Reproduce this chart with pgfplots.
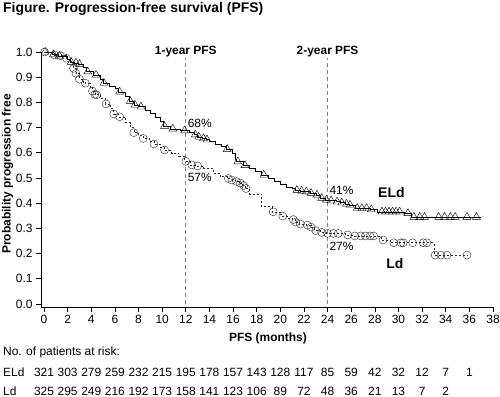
\documentclass[border=0pt]{standalone}
\usepackage{fontspec}
\setmainfont{Liberation Sans}
\usepackage{pgfplots}
\pgfplotsset{compat=1.18}
\newcommand{\fs}{\fontsize{12}{14}\selectfont}
\newcommand{\fb}{\bfseries\fontsize{12}{14}\selectfont}
\begin{document}
\begin{tikzpicture}
\path[use as bounding box] (0,0) rectangle (500bp,397bp);
\begin{axis}[
  at={(41bp,90bp)}, anchor=south west,
  scale only axis, width=452bp, height=255bp,
  xmin=-0.254, xmax=38, ymin=-0.012, ymax=1,
  axis x line*=bottom, axis y line*=left,
  axis line style={black, line width=0.6pt},
  xtick={0,2,...,38}, ytick={0,0.1,...,1.0},
  tick align=outside, major tick length=5bp,
  tick style={black, line width=0.6pt},
  /pgf/number format/assume math mode=true,
  yticklabel style={/pgf/number format/.cd, fixed, fixed zerofill, precision=1},
  tick label style={font=\fs},
  clip=false,
]
% vertical reference lines
\addplot[gray, line width=0.6pt, dash pattern=on 4pt off 3pt] coordinates {(12,0) (12,0.975)};
\addplot[gray, line width=0.6pt, dash pattern=on 4pt off 3pt] coordinates {(24,0) (24,0.975)};
% ELd step curve
\addplot[black, line width=0.5pt, const plot mark left, no marks] coordinates {
(0,1.0) (0.7,0.99) (1.2,0.985) (2.0,0.97) (2.2,0.96) (2.6,0.957) (2.9,0.952) (3.3,0.94)
(3.6,0.922) (4.2,0.909) (4.8,0.89) (5.0,0.877) (5.5,0.865) (6.0,0.855) (6.3,0.842)
(6.9,0.825) (7.2,0.805) (7.6,0.79) (8.1,0.783) (8.6,0.77) (9.0,0.755) (9.4,0.74)
(9.8,0.725) (10.1,0.706) (10.7,0.695) (11.5,0.688) (12.3,0.68) (12.7,0.672) (13.0,0.663)
(13.4,0.657) (13.7,0.652) (14.0,0.645) (14.5,0.635) (15.0,0.625) (15.4,0.614) (15.9,0.60)
(16.2,0.575) (16.3,0.565) (16.9,0.55) (17.4,0.54) (17.9,0.528) (18.4,0.512) (19.0,0.50)
(19.5,0.488) (20.0,0.475) (20.5,0.465) (21.0,0.458) (21.3,0.452) (21.7,0.449) (22.1,0.446)
(22.5,0.44) (23.0,0.433) (23.4,0.42) (23.8,0.413) (24.2,0.41) (24.7,0.406) (25.1,0.402)
(25.5,0.397) (25.8,0.393) (26.3,0.38) (27.6,0.375) (28.2,0.366) (30.5,0.36) (31.1,0.345)
(37.0,0.345)};
\addplot[only marks, mark=triangle, mark size=4.6pt, mark options={black, line width=0.4pt}] coordinates {
(0.1,1.0) (0.8,0.99) (1.3,0.985) (2.3,0.96) (2.7,0.957) (3.0,0.952) (3.7,0.922) (4.4,0.909)
(5.07,0.877) (6.4,0.842) (7.3,0.805) (7.7,0.79) (8.2,0.783) (10.2,0.706) (10.9,0.695)
(11.9,0.688) (12.8,0.672) (13.1,0.663) (13.5,0.657) (13.8,0.652) (15.5,0.614) (16.4,0.565)
(17.0,0.55) (18.6,0.512) (21.4,0.452) (21.8,0.449) (22.2,0.446) (22.6,0.44) (23.1,0.433)
(23.5,0.42) (23.9,0.413) (24.3,0.41) (24.8,0.406) (25.2,0.402) (25.6,0.397) (25.9,0.393)
(26.5,0.38) (26.9,0.38) (27.3,0.38) (27.7,0.375) (28.6,0.366) (28.9,0.366) (29.2,0.366)
(29.5,0.366) (29.8,0.366) (30.1,0.366) (30.8,0.36) (31.3,0.345) (31.8,0.345) (32.2,0.345)
(33.4,0.345) (33.9,0.345) (34.4,0.345) (34.8,0.345) (35.8,0.345) (36.6,0.345)};
% Ld step curve
\addplot[black!85, line width=0.5pt, dash pattern=on 2pt off 2pt, const plot mark left, no marks] coordinates {
(0,1.0) (0.9,0.988) (1.9,0.975) (2.3,0.955) (2.5,0.935) (2.7,0.915) (3.0,0.892) (3.3,0.88)
(3.5,0.876) (3.9,0.86) (4.1,0.845) (4.3,0.832) (4.8,0.815) (5.2,0.794) (5.6,0.775)
(5.9,0.754) (6.3,0.743) (6.9,0.72) (7.3,0.70) (7.6,0.68) (8.0,0.67) (8.4,0.657)
(8.9,0.645) (9.3,0.635) (9.8,0.622) (10.2,0.611) (10.8,0.598) (11.4,0.585) (11.9,0.566)
(12.4,0.552) (12.9,0.548) (13.5,0.538) (14.3,0.52) (14.9,0.505) (15.5,0.498) (15.9,0.492)
(16.2,0.486) (16.5,0.48) (16.8,0.47) (17.0,0.458) (17.4,0.437) (18.4,0.386) (19.3,0.366)
(20.0,0.355) (20.2,0.349) (20.7,0.34) (21.0,0.335) (21.3,0.325) (21.6,0.317) (22.2,0.313)
(22.6,0.305) (22.9,0.291) (23.4,0.284) (23.9,0.28) (25.5,0.274) (26.2,0.27) (28.5,0.254)
(29.3,0.243) (33.0,0.194) (35.8,0.194)};
\addplot[only marks, mark=o, mark size=4pt, mark options={black!85, line width=0.4pt}] coordinates {
(0.05,1.0) (0.9,0.988) (1.4,0.985) (1.9,0.975) (2.5,0.935) (2.7,0.915) (3.0,0.892) (3.5,0.876)
(4.1,0.845) (4.3,0.832) (4.45,0.83) (5.25,0.794) (5.9,0.754) (6.4,0.743) (7.6,0.68)
(8.4,0.657) (9.3,0.635) (10.2,0.611) (12.0,0.566) (12.5,0.552) (13.0,0.548) (15.6,0.498)
(15.9,0.492) (16.3,0.486) (16.6,0.48) (16.9,0.47) (17.1,0.458) (19.4,0.366) (20.2,0.349)
(21.1,0.335) (21.3,0.325) (21.7,0.317) (22.3,0.313) (22.6,0.305) (23.0,0.291) (23.5,0.284)
(24.0,0.28) (24.5,0.28) (24.9,0.28) (25.7,0.274) (26.3,0.27) (26.8,0.27) (27.2,0.27)
(27.6,0.27) (27.9,0.27) (28.7,0.254) (29.6,0.243) (30.2,0.243) (30.4,0.243) (31.2,0.243)
(32.1,0.243) (32.4,0.243) (33.1,0.194) (33.6,0.194) (34.1,0.194) (35.8,0.194)};
% annotations
\node[font=\fb] at (axis cs:12,1.0) {1-year PFS};
\node[font=\fb] at (axis cs:24,1.0) {2-year PFS};
\node[anchor=west, inner sep=0, font=\fs] at (axis cs:12.15,0.718) {68\%};
\node[anchor=west, inner sep=0, font=\fs] at (axis cs:12.15,0.504) {57\%};
\node[anchor=west, inner sep=0, font=\fs] at (axis cs:24.15,0.452) {41\%};
\node[anchor=west, inner sep=0, font=\fs] at (axis cs:24.15,0.227) {27\%};
\node[font=\bfseries\fontsize{14}{16}\selectfont] at (axis cs:29.4,0.444) {ELd};
\node[font=\bfseries\fontsize{14}{16}\selectfont] at (axis cs:29.7,0.161) {Ld};
\end{axis}
% title and labels
\node[anchor=base west, inner sep=0, font=\bfseries\fontsize{14}{16}\selectfont] at (3bp,384.3bp) {Figure. Progression-free survival (PFS)};
\node[rotate=90, inner sep=0, font=\fb] at (7.5bp,223bp) {Probability progression free};
\node[inner sep=0, font=\fb] at (268bp,59bp) {PFS (months)};
% risk table
\node[anchor=west, inner sep=0, font=\fs] at (3bp,45bp) {No. of patients at risk:};
\node[anchor=west, inner sep=0, font=\fs] at (3bp,25bp) {ELd};
\node[anchor=west, inner sep=0, font=\fs] at (3bp,6bp) {Ld};
\foreach \v [count=\i from 0] in {321,303,279,259,232,215,195,178,157,143,128,117,85,59,42,32,12,7,1}
  \node[inner sep=0, font=\fs] at ({(44+23.632*\i)*1bp},25bp) {\v};
\foreach \v [count=\i from 0] in {325,295,249,216,192,173,158,141,123,106,89,72,48,36,21,13,7,2}
  \node[inner sep=0, font=\fs] at ({(44+23.632*\i)*1bp},6bp) {\v};
\end{tikzpicture}
\end{document}
